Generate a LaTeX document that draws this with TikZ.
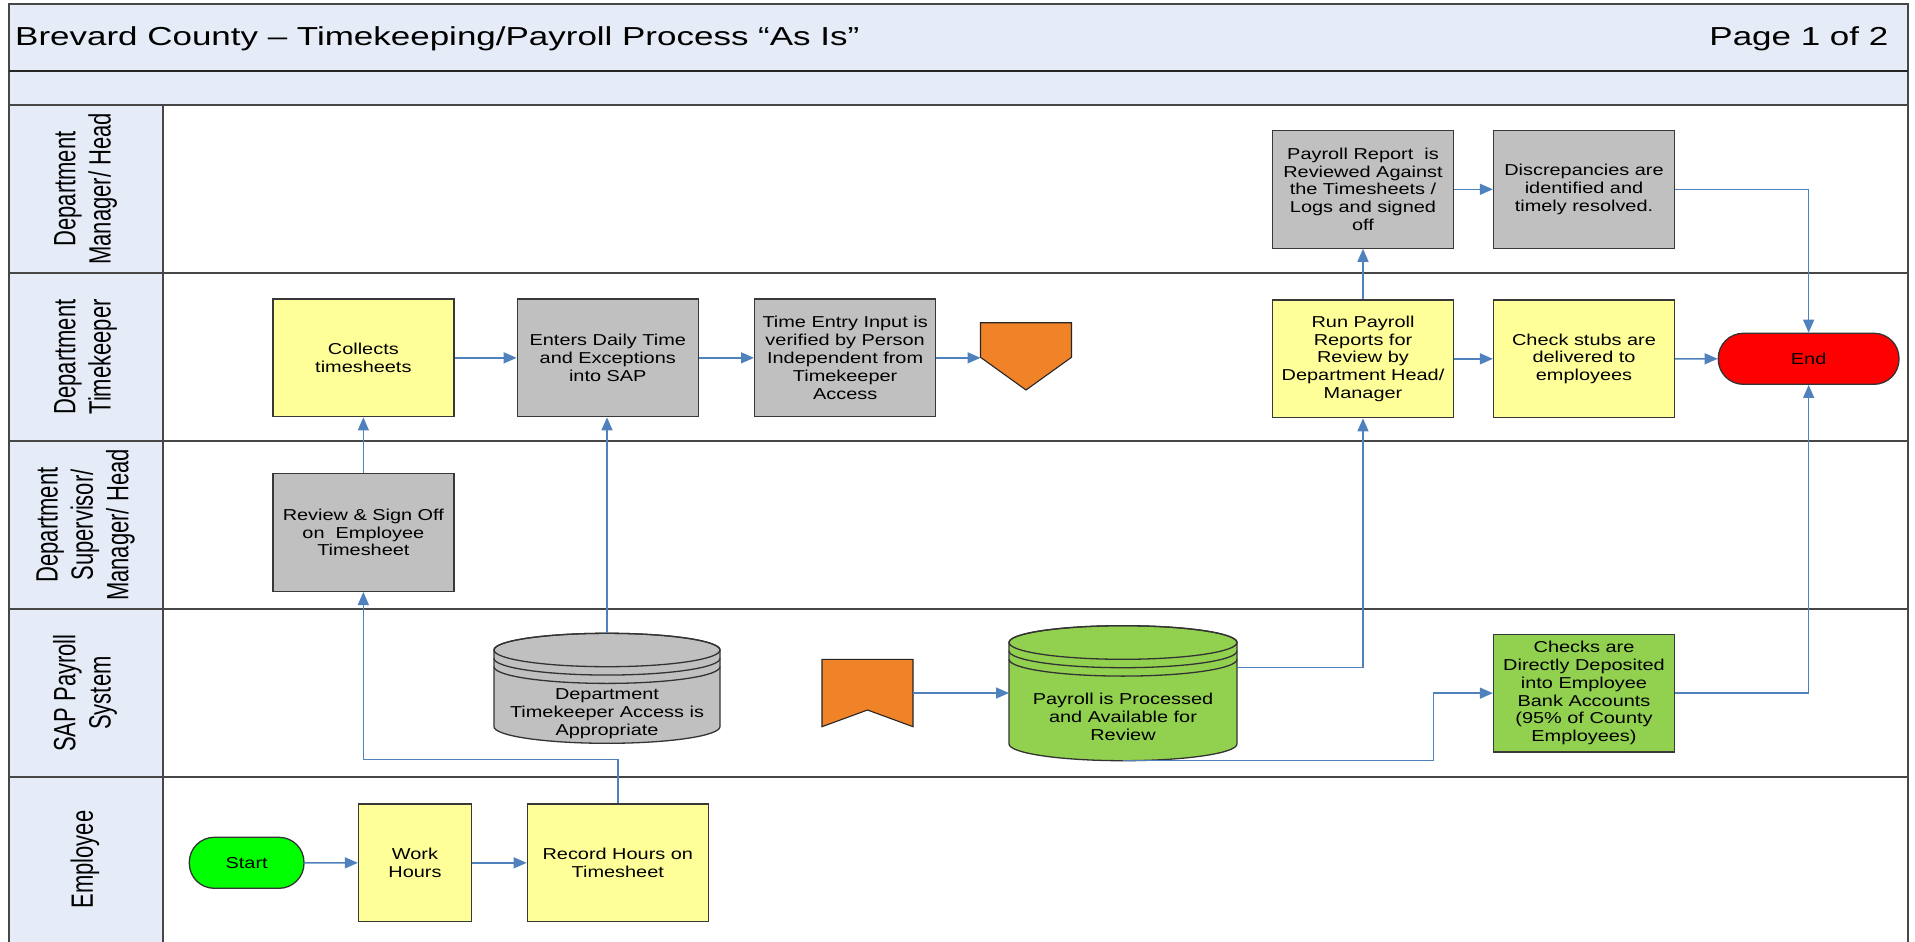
\documentclass[tikz,border=0pt]{standalone}
\usepackage{fontspec}
\setmainfont{Liberation Sans}
\newfontfamily\titlefont[FakeStretch=1.345]{Liberation Sans}
\newfontfamily\boxfont[FakeStretch=1.26]{Liberation Sans}
\newfontfamily\lanefont{Liberation Sans}
\usetikzlibrary{arrows.meta,calc}
\definecolor{lanebg}{RGB}{230,236,247}
\definecolor{connblue}{RGB}{79,129,189}
\definecolor{procyellow}{RGB}{255,255,153}
\definecolor{procgray}{RGB}{192,192,192}
\definecolor{procgreen}{RGB}{146,208,80}
\definecolor{startgreen}{RGB}{0,255,0}
\definecolor{endred}{RGB}{255,0,0}
\definecolor{offorange}{RGB}{240,130,40}
\newcommand\mycyl[6]{%
  \filldraw[fill=#6, draw=black!80, line width=1.3pt]
    (#1-#4,#2) -- (#1-#4,#3)
    arc[start angle=180,end angle=360,x radius=#4pt,y radius=#5pt]
    -- (#1+#4,#2)
    arc[start angle=0,end angle=180,x radius=#4pt,y radius=#5pt] -- cycle;
  \draw[black!80, line width=1.3pt] (#1,#2) ellipse [x radius=#4pt, y radius=#5pt];
  \draw[black!80, line width=1.3pt] (#1-#4,#2+0.5*#5)
    arc[start angle=180,end angle=360,x radius=#4pt,y radius=#5pt];
  \draw[black!80, line width=1.3pt] (#1-#4,#2+#5)
    arc[start angle=180,end angle=360,x radius=#4pt,y radius=#5pt];
}
\begin{document}
\begin{tikzpicture}[x=1pt,y=-1pt,
  boxtxt/.style={inner sep=0pt, align=center, font=\boxfont\fontsize{15.8}{17.8}\selectfont},
  proc/.style={boxtxt, draw=black!78, line width=1.3pt, minimum width=181pt, minimum height=117.7pt},
  term/.style={boxtxt, draw=black!80, line width=1.3pt, rounded corners=25pt, minimum height=51pt},
  conn/.style={draw=connblue, line width=1.4pt, -{Triangle[length=13pt,width=11pt]}},
  lanelab/.style={rotate=90, inner sep=0pt, font=\lanefont\fontsize{22}{25.3}\selectfont},
  ghost/.style={inner sep=0pt, outer sep=0pt},
  frame/.style={draw=black!72, line width=2pt},
  offpage/.style={fill=offorange, draw=black!85, line width=1.1pt}
]
\useasboundingbox (0,0) rectangle (1915,942);

% ---------- frame and lanes ----------
\fill[lanebg] (8.5,4) rectangle (1908,105);
\fill[lanebg] (8.5,105) rectangle (163.3,948);
\draw[frame] (8.5,948) -- (8.5,4) -- (1908,4) -- (1908,948);
\draw[black!85, line width=1.5pt] (8.5,71) -- (1908,71);
\foreach \yy in {105,272.7,441,609,777} \draw[frame] (8.5,\yy) -- (1908,\yy);
\draw[frame] (163.3,105) -- (163.3,948);

\node[anchor=base west, inner sep=0pt, font=\titlefont\fontsize{26}{30}\selectfont] (title) at (15,46)
  {Brevard County – Timekeeping/Payroll Process “As Is”};
\node[anchor=base east, inner sep=0pt, font=\titlefont\fontsize{26}{30}\selectfont] (page) at (1888.5,46)
  {Page 1 of 2};

% ---------- lane labels ----------
\node[lanelab] (lane1) at (85.9,188.9) {\scalebox{1}[1.4]{\begin{tabular}{@{}c@{}}Department\\Manager/ Head\end{tabular}}};
\node[lanelab] (lane2) at (85.9,356.9) {\scalebox{1}[1.4]{\begin{tabular}{@{}c@{}}Department\\Timekeeper\end{tabular}}};
\node[lanelab] (lane3) at (85.9,525) {\scalebox{1}[1.4]{\begin{tabular}{@{}c@{}}Department\\Supervisor/\\Manager/ Head\end{tabular}}};
\node[lanelab] (lane4) at (85.9,693) {\scalebox{1}[1.4]{\begin{tabular}{@{}c@{}}SAP Payroll\\System\end{tabular}}};
\node[lanelab] (lane5) at (85.9,859.5) {\scalebox{1}[1.4]{\begin{tabular}{@{}c@{}}Employee\end{tabular}}};

% ---------- special shapes ----------
\mycyl{607}{650}{726.6}{113}{16.7}{procgray}
\mycyl{1123}{642.5}{743.9}{114}{16.8}{procgreen}
\draw[offpage] (980.5,322.7) -- (1071.5,322.7) -- (1071.5,357.3) -- (1026,390) -- (980.5,357.3) -- cycle;
\draw[offpage] (822,659.3) -- (913,659.3) -- (913,726.7) -- (867.5,710) -- (822,726.7) -- cycle;

\node[ghost, minimum width=226pt, minimum height=110pt] (cyl1) at (607,688.3) {};
\node[ghost, minimum width=228pt, minimum height=135pt] (cyl2) at (1123,693.2) {};
\node[ghost, minimum width=91pt, minimum height=67.3pt] (pent) at (1026,356.35) {};
\node[ghost, minimum width=91pt, minimum height=67.4pt] (bm) at (867.5,693) {};
\node[boxtxt] (cyl1t) at (607,713.7) {Department\\Timekeeper Access is\\Appropriate};
\node[boxtxt] (cyl2t) at (1123,717) {Payroll is Processed\\and Available for\\Review};

% ---------- process boxes ----------
\node[proc, fill=procgray] (payrep) at (1363,189.3) {Payroll Report~ is\\Reviewed Against\\the Timesheets /\\Logs and signed\\off};
\node[proc, fill=procgray] (disc) at (1584,189.3) {Discrepancies are\\identified and\\timely resolved.};

\node[proc, fill=procyellow] (collects) at (363.35,357.85) {Collects\\timesheets};
\node[proc, fill=procgray] (enters) at (607.8,357.85) {Enters Daily Time\\and Exceptions\\into SAP};
\node[proc, fill=procgray] (timeentry) at (845.15,357.85) {Time Entry Input is\\verified by Person\\Independent from\\Timekeeper\\Access};
\node[proc, fill=procyellow] (runpay) at (1363,358.85) {Run Payroll\\Reports for\\Review by\\Department Head/\\Manager};
\node[proc, fill=procyellow] (stubs) at (1584,358.85) {Check stubs are\\delivered to\\employees};
\node[term, fill=endred, minimum width=180.7pt] (end) at (1808.65,358.8) {End};

\node[proc, fill=procgray] (review) at (363.35,532.5) {Review \& Sign Off\\on~ Employee\\Timesheet};

\node[proc, fill=procgreen] (checks) at (1584,693.15) {Checks are\\Directly Deposited\\into Employee\\Bank Accounts\\(95\% of County\\Employees)};

\node[term, fill=startgreen, minimum width=114.7pt] (start) at (246.65,862.8) {Start};
\node[proc, fill=procyellow, minimum width=113pt] (work) at (415,862.85) {Work\\Hours};
\node[proc, fill=procyellow] (record) at (617.8,862.85) {Record Hours on\\Timesheet};

% ---------- connectors ----------
\draw[conn] (start.east) -- (work.west);
\draw[conn] (work.east) -- (record.west);
\draw[conn] (record.north) -- ++(0,-43.7) -| (review.south);
\draw[conn] (review.north) -- (collects.south);
\draw[conn] (collects.east) -- (enters.west);
\draw[conn] (enters.east) -- (timeentry.west);
\draw[conn] (timeentry.east) -- (timeentry.east -| pent.west);
\draw[conn] (cyl1.north) -- (cyl1.north |- enters.south);
\draw[conn] (bm.east) -- (bm.east -| cyl2.west);
\draw[conn] ([yshift=25.5pt]cyl2.east) -| (runpay.south);
\draw[conn] (cyl2.south) -| ($(checks.west)+(-59.5,0)$) -- (checks.west);
\draw[conn] (runpay.north) -- (payrep.south);
\draw[conn] (payrep.east) -- (disc.west);
\draw[conn] (runpay.east) -- (stubs.west);
\draw[conn] (stubs.east) -- (end.west);
\draw[conn] (disc.east) -| (end.north);
\draw[conn] (checks.east) -| (end.south);
\end{tikzpicture}
\end{document}
